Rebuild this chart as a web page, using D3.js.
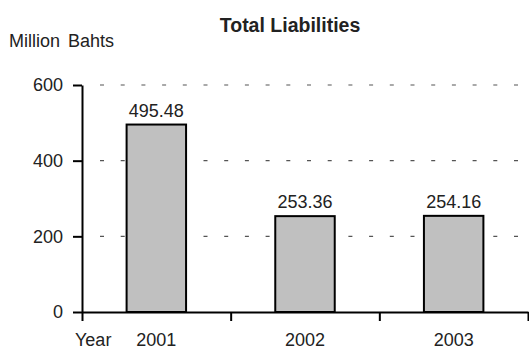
<!doctype html>
<html>
<head>
    <script src="https://d3js.org/d3.v7.min.js"></script>
    <style>
        body { margin: 0; background: #fff; }
        svg text { font-family: "Liberation Sans", Arial, sans-serif; fill: #222; }
    </style>
</head>
<body>
<svg id="chart" width="529" height="351"></svg>
<script>
    // chart data
    var years = ["2001", "2002", "2003"];
    var liabilities = [495.48, 253.36, 254.16];
    var yTicks = [0, 200, 400, 600];
    var title = "Total Liabilities";
    var unitLabel = "Million Bahts";
    var xLabel = "Year";

    var svg = d3.select("#chart");
    var plotLeft = 82, plotRight = 528, plotTop = 85, plotBottom = 312;

    var x = d3.scaleBand().domain(years).range([plotLeft, plotRight]).padding(0);
    var xEdge = d3.scaleLinear().domain([0, years.length]).range([plotLeft, plotRight]);
    var y = d3.scaleLinear().domain([0, 600]).range([plotBottom, plotTop]);

    // dashed gridlines (behind bars)
    svg.append("g")
        .selectAll("line")
        .data(yTicks.filter(d => d > 0))
        .enter()
        .append("line")
        .attr("x1", plotLeft + 18)
        .attr("x2", plotRight)
        .attr("y1", d => y(d))
        .attr("y2", d => y(d))
        .attr("stroke", "#555")
        .attr("stroke-width", 1.2)
        .attr("stroke-dasharray", "4,16.7");

    // bars
    var barW = x.bandwidth() * 0.4;
    svg.append("g")
        .selectAll("rect")
        .data(liabilities)
        .enter()
        .append("rect")
        .attr("x", (d, i) => x(years[i]) + (x.bandwidth() - barW) / 2)
        .attr("y", d => y(d))
        .attr("width", barW)
        .attr("height", d => plotBottom - y(d))
        .attr("fill", "#c0c0c0")
        .attr("stroke", "#000")
        .attr("stroke-width", 2);

    // value labels
    svg.append("g")
        .selectAll("text")
        .data(liabilities)
        .enter()
        .append("text")
        .attr("x", (d, i) => x(years[i]) + x.bandwidth() / 2)
        .attr("y", d => y(d) - 8)
        .attr("text-anchor", "middle")
        .style("font-size", "18px")
        .text(d => d.toFixed(2));

    // y axis
    svg.append("g")
        .attr("transform", "translate(" + plotLeft + ",0)")
        .call(d3.axisLeft(y).tickValues(yTicks).tickSize(9).tickSizeOuter(0).tickPadding(10))
        .call(g => g.select(".domain").attr("stroke", "#000").attr("stroke-width", 2))
        .call(g => g.selectAll(".tick line").attr("stroke", "#000").attr("stroke-width", 2))
        .call(g => g.selectAll(".tick text").style("font-size", "18px").style("font-family", "Liberation Sans, Arial, sans-serif").attr("fill", "#222"));

    // x axis: boundary ticks
    svg.append("g")
        .attr("transform", "translate(0," + plotBottom + ")")
        .call(d3.axisBottom(xEdge).ticks(years.length).tickSize(9).tickSizeOuter(0).tickFormat(""))
        .call(g => g.select(".domain").attr("stroke", "#000").attr("stroke-width", 2))
        .call(g => g.selectAll(".tick line").attr("stroke", "#000").attr("stroke-width", 2));

    // x axis: year labels
    svg.append("g")
        .attr("transform", "translate(0," + plotBottom + ")")
        .call(d3.axisBottom(x).tickSize(0).tickPadding(21))
        .call(g => g.select(".domain").remove())
        .call(g => g.selectAll(".tick text").style("font-size", "18px").style("font-family", "Liberation Sans, Arial, sans-serif").attr("fill", "#222"));

    // titles
    svg.append("text")
        .attr("x", 290)
        .attr("y", 32)
        .attr("text-anchor", "middle")
        .style("font-size", "19.5px")
        .style("font-weight", "bold")
        .attr("fill", "#000")
        .text(title);

    svg.append("text")
        .attr("x", 9)
        .attr("y", 47)
        .style("font-size", "18px")
        .style("word-spacing", "3px")
        .text(unitLabel);

    svg.append("text")
        .attr("x", 75)
        .attr("y", 346)
        .style("font-size", "18px")
        .text(xLabel);
</script>
</body>
</html>
